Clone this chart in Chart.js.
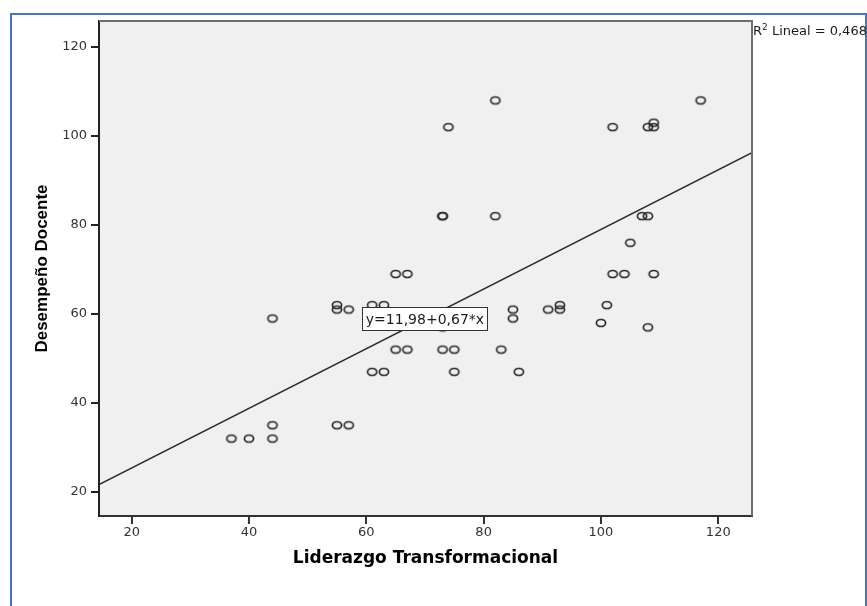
<!DOCTYPE html>
<html>
<head>
<meta charset="utf-8">
<title>Liderazgo Transformacional vs Desempeño Docente</title>
<script src="https://cdn.jsdelivr.net/npm/chart.js@4/dist/chart.umd.min.js"></script>
<style>
  html, body { margin: 0; padding: 0; background: #ffffff; }
  #wrap { position: relative; width: 867px; height: 606px; overflow: hidden; }
  #frame { position: absolute; left: 10px; top: 13px; width: 853px; height: 700px;
           border: 2px solid #4674C6; }
  #c { position: absolute; left: 0; top: 0; }
</style>
</head>
<body>
<div id="wrap">
  <div id="frame"></div>
  <canvas id="c" width="867" height="606"></canvas>
</div>
<script>
// Observations: transformational leadership score (x) and teaching performance score (y)
const liderazgo = [37, 40, 44, 44, 44, 55, 57, 55, 55, 57,
                   61, 63, 65, 67, 61, 63, 65, 67,
                   73, 75, 75, 73, 73, 73, 82, 74, 82,
                   102, 108, 109, 109, 117, 107, 108, 105, 102, 104, 109, 101, 100, 108,
                   85, 85, 91, 93, 93, 83, 86];
const desempeno = [32, 32, 32, 35, 59, 35, 35, 62, 61, 61,
                   62, 62, 69, 69, 47, 47, 52, 52,
                   52, 52, 47, 57, 82, 82, 82, 102, 108,
                   102, 102, 103, 102, 108, 82, 82, 76, 69, 69, 69, 62, 58, 57,
                   61, 59, 61, 62, 61, 52, 47];

const xTicks = [20, 40, 60, 80, 100, 120];
const yTicks = [20, 40, 60, 80, 100, 120];

// Linear fit
const intercept = 11.98;
const slope = 0.67;
const rSquared = 0.468;

const X_MIN = 14.43, X_MAX = 125.75;
const Y_MIN = 14.6, Y_MAX = 125.85;

const fmt = v => v.toFixed(2).replace('.', ',');
const equationText = 'y=' + fmt(intercept) + '+' + fmt(slope) + '*x';

// Open elliptical marker used for each observation
function ringMarker(rx, ry, lw, color) {
  const c = document.createElement('canvas');
  c.width = Math.ceil(rx * 2 + lw + 3);
  c.height = Math.ceil(ry * 2 + lw + 3);
  const g = c.getContext('2d');
  g.strokeStyle = color;
  g.lineWidth = lw;
  g.beginPath();
  g.ellipse(c.width / 2, c.height / 2, rx, ry, 0, 0, Math.PI * 2);
  g.stroke();
  return c;
}
const marker = ringMarker(4.6, 3.5, 1.7, '#2A2A2A');

const points = liderazgo.map((x, i) => ({ x: x, y: desempeno[i] }));
const fitLine = [X_MIN, X_MAX].map(x => ({ x: x, y: intercept + slope * x }));

// Grey plot background and the upper/right frame of the plot
const plotFrame = {
  id: 'plotFrame',
  beforeDraw(chart) {
    const { ctx, chartArea: a } = chart;
    ctx.save();
    ctx.fillStyle = '#F0F0F0';
    ctx.fillRect(a.left, a.top, a.right - a.left, a.bottom - a.top);
    ctx.restore();
  },
  afterDraw(chart) {
    const { ctx, chartArea: a } = chart;
    ctx.save();
    ctx.strokeStyle = '#6E6E6E';
    ctx.lineWidth = 2;
    ctx.beginPath();
    ctx.moveTo(a.left, a.top);
    ctx.lineTo(a.right, a.top);
    ctx.lineTo(a.right, a.bottom);
    ctx.stroke();
    ctx.restore();
  }
};

// Equation box on the fit line and the R² note beside the plot
const fitLabels = {
  id: 'fitLabels',
  afterDraw(chart) {
    const { ctx, chartArea: a } = chart;
    const sx = chart.scales.x, sy = chart.scales.y;
    const labelAt = 70;
    const cx = sx.getPixelForValue(labelAt);
    const cy = sy.getPixelForValue(intercept + slope * labelAt);
    ctx.save();
    ctx.font = '14px "DejaVu Sans"';
    const w = Math.round(ctx.measureText(equationText).width + 8);
    const h = 24;
    const bx = Math.round(cx - w / 2), by = Math.round(cy - h / 2);
    ctx.fillStyle = '#FFFFFF';
    ctx.fillRect(bx, by, w, h);
    ctx.strokeStyle = '#333333';
    ctx.lineWidth = 1;
    ctx.strokeRect(bx + 0.5, by + 0.5, w - 1, h - 1);
    ctx.fillStyle = '#1A1A1A';
    ctx.textAlign = 'center';
    ctx.textBaseline = 'middle';
    ctx.fillText(equationText, cx, cy + 1);

    // R² Lineal = ...
    let tx = a.right + 1;
    const ty = a.top + 11;
    ctx.textAlign = 'left';
    ctx.textBaseline = 'middle';
    ctx.font = '13px "DejaVu Sans"';
    ctx.fillText('R', tx, ty);
    tx += ctx.measureText('R').width;
    ctx.font = '9px "DejaVu Sans"';
    ctx.fillText('2', tx, ty - 4);
    tx += ctx.measureText('2').width;
    ctx.font = '13px "DejaVu Sans"';
    ctx.fillText(' Lineal = ' + rSquared.toFixed(3).replace('.', ','), tx, ty);
    ctx.restore();
  }
};

new Chart(document.getElementById('c'), {
  type: 'scatter',
  data: {
    datasets: [
      {
        label: 'Desempeño Docente',
        data: points,
        pointStyle: marker,
        pointRadius: 5,
        pointHoverRadius: 5,
        order: 0
      },
      {
        type: 'line',
        label: 'Lineal',
        data: fitLine,
        borderColor: '#2A2A2A',
        borderWidth: 1.5,
        pointRadius: 0,
        fill: false,
        tension: 0,
        order: 1
      }
    ]
  },
  options: {
    responsive: false,
    animation: false,
    events: [],
    layout: { padding: { left: 0, top: 21, right: 115, bottom: 0 } },
    plugins: {
      legend: { display: false },
      tooltip: { enabled: false }
    },
    scales: {
      x: {
        type: 'linear',
        min: X_MIN,
        max: X_MAX,
        afterBuildTicks: s => { s.ticks = xTicks.map(v => ({ value: v })); },
        afterFit: s => { s.height = 90; },
        grid: { drawOnChartArea: false, drawTicks: true, tickLength: 8, color: '#333333', lineWidth: 2 },
        border: { display: true, color: '#333333', width: 2 },
        ticks: {
          color: '#333333',
          font: { family: '"DejaVu Sans"', size: 13 },
          padding: 1,
          maxRotation: 0,
          autoSkip: false
        },
        title: {
          display: true,
          text: 'Liderazgo Transformacional',
          color: '#000000',
          font: { family: '"DejaVu Sans"', weight: 'bold', size: 17 },
          padding: { top: 0, bottom: 37 }
        }
      },
      y: {
        type: 'linear',
        min: Y_MIN,
        max: Y_MAX,
        afterBuildTicks: s => { s.ticks = yTicks.map(v => ({ value: v })); },
        afterFit: s => { s.width = 99; },
        grid: { drawOnChartArea: false, drawTicks: true, tickLength: 8, color: '#222222', lineWidth: 2 },
        border: { display: true, color: '#222222', width: 2 },
        ticks: {
          color: '#333333',
          font: { family: '"DejaVu Sans"', size: 13 },
          padding: 4,
          autoSkip: false
        },
        title: {
          display: true,
          text: 'Desempeño Docente',
          color: '#000000',
          font: { family: '"Liberation Sans"', weight: 'bold', size: 17 },
          padding: { top: 32, bottom: 0 }
        }
      }
    }
  },
  plugins: [plotFrame, fitLabels]
});
</script>
</body>
</html>
